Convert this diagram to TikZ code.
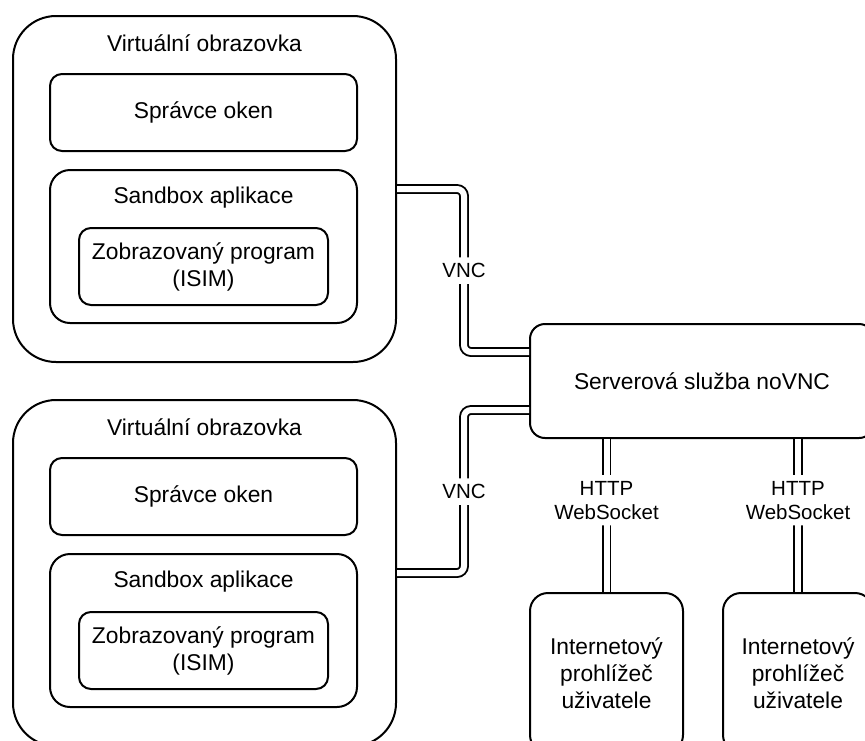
\documentclass[tikz,border=0pt]{standalone}
\usepackage{fontspec}
\setmainfont{Liberation Sans}
\usetikzlibrary{positioning}
\tikzset{%
  box/.style = {rectangle,draw,line width=2pt,rounded corners=12pt,
        align=center,inner sep=0pt},
  title/.style = {anchor=base,inner sep=0pt},
  link/.style = {double,double distance=6pt,line width=1.9pt,
        rounded corners=7pt},
  lbl/.style = {fill=white,inner xsep=2pt,inner ysep=6pt,align=center,
        font=\fontsize{20.5}{24}\selectfont}
}

\begin{document}
\begin{tikzpicture}[x=1pt,y=-1pt,font=\fontsize{22.8}{27}\selectfont]
  \useasboundingbox (0,0) rectangle (865,740);

  % upper virtual screen
  \node[box, rounded corners=43pt, minimum width=383pt, minimum height=346pt] (scr1) at (204.5,189) {};
  \node[title] (scr1t) at (204.5,51) {Virtuální obrazovka};
  \node[box, minimum width=307pt, minimum height=77pt] (wm1) at (203.5,112.5) {Správce oken};
  \node[box, rounded corners=20pt, minimum width=307pt, minimum height=153pt] (sb1) at (203.5,246.5) {};
  \node[title] (sb1t) at (203.5,203) {Sandbox aplikace};
  \node[box, minimum width=249pt, minimum height=77pt] (prg1) at (203.5,266.5) {Zobrazovaný program\\(ISIM)};

  % lower virtual screen
  \node[box, rounded corners=43pt, minimum width=383pt, minimum height=346pt] (scr2) at (204.5,573) {};
  \node[title] (scr2t) at (204.5,435) {Virtuální obrazovka};
  \node[box, minimum width=307pt, minimum height=77pt] (wm2) at (203.5,496.5) {Správce oken};
  \node[box, rounded corners=20pt, minimum width=307pt, minimum height=153pt] (sb2) at (203.5,630.5) {};
  \node[title] (sb2t) at (203.5,587) {Sandbox aplikace};
  \node[box, minimum width=249pt, minimum height=77pt] (prg2) at (203.5,650.5) {Zobrazovaný program\\(ISIM)};

  % server and browsers
  \node[box, rounded corners=15pt, minimum width=344pt, minimum height=114pt] (srv) at (702,381) {Serverová služba noVNC};
  \node[box, rounded corners=18pt, minimum width=153pt, minimum height=160pt] (brw1) at (606.5,673) {Internetový\\prohlížeč\\uživatele};
  \node[box, rounded corners=18pt, minimum width=150pt, minimum height=160pt] (brw2) at (798,673) {Internetový\\prohlížeč\\uživatele};

  \draw[link] (scr1.east) -- ++(67,0) |- ([yshift=29pt]srv.west) node[lbl,pos=0.25] {VNC};
  \draw[link] (scr2.east) -- ++(67,0) |- ([yshift=-29pt]srv.west) node[lbl,pos=0.25] {VNC};
  \draw[link] (srv.south -| brw1.north) -- (brw1.north) node[lbl,pos=0.4] {HTTP\\WebSocket};
  \draw[link] (srv.south -| brw2.north) -- (brw2.north) node[lbl,pos=0.4] {HTTP\\WebSocket};
\end{tikzpicture}
\end{document}
